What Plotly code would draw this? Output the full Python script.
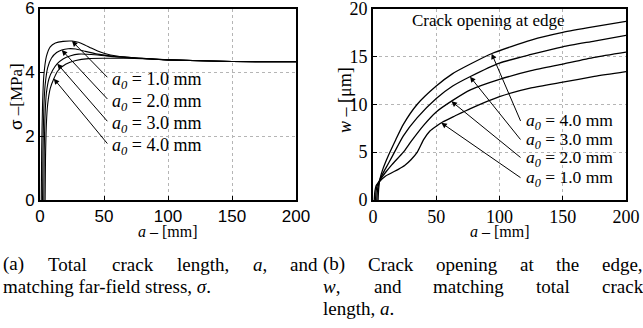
import re
import numpy as np
import plotly.graph_objects as go

W, H = 643, 328

# ---- far-field stress sigma [MPa] vs total crack length a [mm] ----
a_sig_10 = [1, 1.3, 2, 3, 5, 8, 12, 18, 25, 30, 35, 40, 45, 50, 60, 75, 100, 150, 200]
sig_10 = [0, 1.5, 3.0, 3.9, 4.5, 4.8, 4.92, 4.97, 4.98, 4.94, 4.86, 4.76, 4.67, 4.6, 4.51, 4.45, 4.39, 4.34, 4.33]

a_sig_20 = [2, 2.3, 3, 4, 6, 9, 13, 17, 22, 28, 35, 45, 60, 75, 100, 150, 200]
sig_20 = [0, 1.5, 2.9, 3.6, 4.15, 4.45, 4.62, 4.7, 4.74, 4.73, 4.66, 4.57, 4.49, 4.45, 4.39, 4.34, 4.33]

a_sig_30 = [3, 3.3, 4, 5, 7, 10, 13.5, 18, 24, 30, 40, 55, 75, 100, 150, 200]
sig_30 = [0, 1.5, 2.7, 3.35, 3.8, 4.07, 4.27, 4.42, 4.52, 4.57, 4.56, 4.5, 4.45, 4.39, 4.34, 4.33]

a_sig_40 = [4, 4.3, 5, 6, 8, 10.8, 14, 20, 28, 38, 50, 65, 80, 100, 150, 200]
sig_40 = [0, 1.3, 2.4, 3.0, 3.5, 3.8, 4.05, 4.25, 4.37, 4.43, 4.44, 4.44, 4.43, 4.39, 4.34, 4.33]

# ---- crack opening at the edge w [um] vs total crack length a [mm] ----
a_w_10 = [1, 1.5, 2.5, 5, 10, 20, 25, 30, 35, 40, 45, 50, 55, 65, 77, 100, 125, 150, 175, 200]
w_10 = [0, 0.9, 1.5, 1.9, 2.5, 3.2, 3.6, 4.2, 5.0, 6.3, 7.2, 7.7, 8.15, 8.8, 9.55, 10.8, 11.7, 12.3, 12.9, 13.4]

a_w_20 = [2, 2.5, 3.5, 5, 10, 15, 24, 30, 40, 50, 63, 77, 100, 125, 150, 175, 200]
w_20 = [0, 1.0, 1.6, 2.0, 2.9, 3.7, 5.0, 6.1, 7.8, 9.2, 10.4, 11.5, 12.6, 13.5, 14.2, 14.9, 15.45]

a_w_30 = [3, 3.5, 4.5, 6, 10, 15, 24, 35, 50, 63, 77, 100, 125, 150, 175, 200]
w_30 = [0, 1.0, 1.7, 2.3, 3.3, 4.5, 6.7, 8.6, 10.6, 11.9, 12.9, 14.3, 15.2, 16.0, 16.6, 17.2]

a_w_40 = [4, 4.5, 5.5, 8, 12, 18, 24, 35, 50, 63, 77, 94, 125, 150, 175, 200]
w_40 = [0, 1.2, 2.2, 3.3, 4.6, 6.3, 7.9, 10.0, 11.9, 13.2, 14.2, 15.3, 16.7, 17.5, 18.1, 18.65]

labels_a0 = ["1.0", "2.0", "3.0", "4.0"]

x_ticks = [0, 50, 100, 150, 200]
sig_ticks = [0, 2, 4, 6]
w_ticks = [0, 5, 10, 15, 20]

SANS = "Liberation Sans, Arial, sans-serif"
SERIF = "Liberation Serif, Times New Roman, serif"

# plot areas in pixels
L_X0, L_X1 = 40, 296
R_X0, R_X1 = 373, 626
Y_TOP, Y_BOT = 8.5, 200


def px(x):
    return x / W


def py(y):
    return 1 - y / H


fig = go.Figure()

sig_curves = [(a_sig_10, sig_10), (a_sig_20, sig_20), (a_sig_30, sig_30), (a_sig_40, sig_40)]
w_curves = [(a_w_10, w_10), (a_w_20, w_20), (a_w_30, w_30), (a_w_40, w_40)]

for a, s in sig_curves:
    fig.add_trace(go.Scatter(x=a, y=s, mode="lines", xaxis="x", yaxis="y",
                             line=dict(color="black", width=1.1, shape="spline", smoothing=0.6),
                             showlegend=False, hoverinfo="skip"))
for a, w in w_curves:
    fig.add_trace(go.Scatter(x=a, y=w, mode="lines", xaxis="x2", yaxis="y2",
                             line=dict(color="black", width=1.3, shape="spline", smoothing=0.6),
                             showlegend=False, hoverinfo="skip"))

axis_common = dict(
    showline=True, mirror=True, linecolor="black", linewidth=1.6,
    ticks="inside", ticklen=4, tickcolor="black",
    showgrid=True, gridcolor="#b5b5b5", griddash="dot", gridwidth=1,
    zeroline=False, fixedrange=True, ticklabeloverflow="allow",
)

fig.update_layout(
    width=W, height=H,
    margin=dict(l=0, r=0, t=0, b=0, autoexpand=False),
    paper_bgcolor="white", plot_bgcolor="white",
    showlegend=False,
    xaxis=dict(axis_common, domain=[px(L_X0), px(L_X1)], range=[0, 200], tickvals=x_ticks,
               tickfont=dict(family=SANS, size=17, color="black"), anchor="y"),
    yaxis=dict(axis_common, domain=[py(Y_BOT), py(Y_TOP)], range=[0, 6], tickvals=sig_ticks,
               tickfont=dict(family=SANS, size=17, color="black"), anchor="x"),
    xaxis2=dict(axis_common, domain=[px(R_X0), px(R_X1)], range=[0, 200], tickvals=x_ticks,
                tickfont=dict(family=SERIF, size=18, color="black"), anchor="y2"),
    yaxis2=dict(axis_common, domain=[py(Y_BOT), py(Y_TOP)], range=[0, 20], tickvals=w_ticks,
                tickfont=dict(family=SERIF, size=18, color="black"), anchor="x2"),
)

ann = []


def paper_text(text, x, y, size, family=SERIF, angle=0, xanchor="center"):
    ann.append(dict(text=text, xref="paper", yref="paper", x=px(x), y=py(y),
                    xanchor=xanchor, yanchor="middle", textangle=angle, showarrow=False,
                    font=dict(family=family, size=size, color="black")))


# axis titles
paper_text("<span style='font-family:Liberation Sans'>σ</span> –[MPa]", 17, 97, 17, angle=-90)
paper_text("<i>w</i> – [μm]", 345, 100, 18, angle=-90)
for cx in [(L_X0 + L_X1) / 2, (R_X0 + R_X1) / 2]:
    paper_text("<i>a</i> – [mm]", cx, 231, 16)

paper_text("Crack opening at edge", 488, 21, 17)

# arrows (heads sit on the curves) and labels, left panel
sig_head_a = [25, 17, 13.5, 10.8]
sig_tail = [(53, 3.83), (53, 3.15), (53, 2.45), (53, 1.75)]
sig_lab_y = [3.75, 3.06, 2.375, 1.69]
for (a, s), ha, (ta, ts), lab, ly in zip(sig_curves, sig_head_a, sig_tail, labels_a0, sig_lab_y):
    hy = float(np.interp(ha, a, s))
    ann.append(dict(text=" ", font=dict(size=1), borderpad=0,
                    x=ha, y=hy, xref="x", yref="y", ax=ta, ay=ts, axref="x", ayref="y",
                    showarrow=True, arrowhead=2, arrowsize=1.1, arrowwidth=1, arrowcolor="black"))
    ann.append(dict(text=f"<i>a</i><sub><i>0</i></sub> = {lab} mm", x=54.5, y=ly, xref="x", yref="y",
                    xanchor="left", yanchor="middle", showarrow=False,
                    font=dict(family=SERIF, size=18, color="black")))

# arrows and labels, right panel
w_head_a = [54, 62, 76.7, 93.8]
w_tail = [(117, 2.3), (117, 4.4), (117, 6.25), (117, 8.15)]
w_lab_y = [2.26, 4.34, 6.25, 8.16]
for (a, w), ha, (ta, tw), lab, ly in zip(w_curves, w_head_a, w_tail, labels_a0, w_lab_y):
    hy = float(np.interp(ha, a, w))
    ann.append(dict(text=" ", font=dict(size=1), borderpad=0,
                    x=ha, y=hy, xref="x2", yref="y2", ax=ta, ay=tw, axref="x2", ayref="y2",
                    showarrow=True, arrowhead=2, arrowsize=1.1, arrowwidth=1, arrowcolor="black"))
    ann.append(dict(text=f"<i>a</i><sub><i>0</i></sub> = {lab} mm", x=119, y=ly, xref="x2", yref="y2",
                    xanchor="left", yanchor="middle", showarrow=False,
                    font=dict(family=SERIF, size=17.5, color="black")))

# sub-figure captions (justified lines are laid out word by word)
CAP_SIZE = 19
TIMES_W = {' ': .25, '(': .333, ')': .333, 'a': .444, 'b': .5, 'c': .444, 'd': .5, 'e': .444,
           'f': .333, 'g': .5, 'h': .5, 'i': .278, 'k': .5, 'l': .278, 'm': .778, 'n': .5,
           'o': .5, 'p': .5, 'r': .333, 's': .389, 't': .278, 'w': .722, 'T': .611, 'C': .667,
           ',': .25, '.': .25, '-': .333, 'σ': .55}


def text_width(s, size):
    plain = re.sub(r"<[^>]+>", "", s)
    return sum(TIMES_W.get(ch, .5) for ch in plain) * size


def caption_line(words, x0, x1, yc, justify=True):
    if not justify:
        paper_text(" ".join(words), x0, yc, CAP_SIZE, xanchor="left")
        return
    widths = [text_width(wd, CAP_SIZE) for wd in words]
    gap = (x1 - x0 - sum(widths)) / (len(words) - 1)
    x = x0
    for wd, wdt in zip(words, widths):
        paper_text(wd, x, yc, CAP_SIZE, xanchor="left")
        x += wdt + gap


caption_line(["(a)", "Total", "crack", "length,", "<i>a</i>,", "and"], 1, 315, 264)
caption_line(["matching", "far-field", "stress,", "<i>σ</i>."], 1, 0, 286, justify=False)
caption_line(["(b)", "Crack", "opening", "at", "the", "edge,"], 321, 641, 264)
caption_line(["<i>w</i>,", "and", "matching", "total", "crack"], 321, 641, 286)
caption_line(["length,", "<i>a</i>."], 321, 0, 308, justify=False)

fig.update_layout(annotations=ann)

fig.write_html("out.html")
